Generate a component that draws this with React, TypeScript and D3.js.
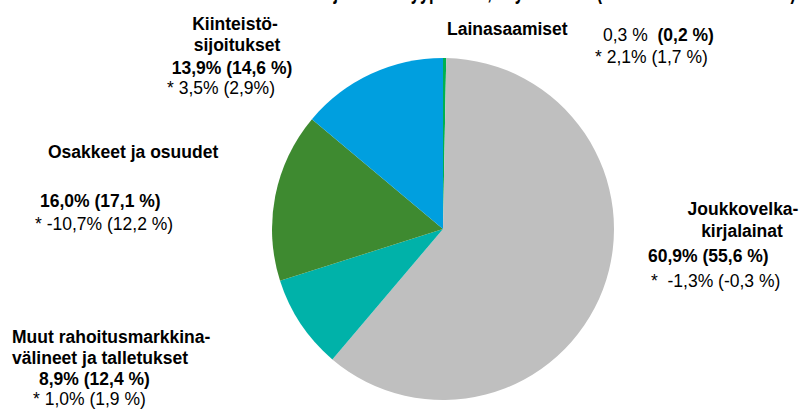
import React, { useEffect, useRef } from 'react';
import * as d3 from 'd3';

const categories: string[] = [
  'Lainasaamiset',
  'Joukkovelkakirjalainat',
  'Muut rahoitusmarkkinavälineet ja talletukset',
  'Osakkeet ja osuudet',
  'Kiinteistösijoitukset',
];
const shares: number[] = [0.3, 60.9, 8.9, 16.0, 13.9];
const prevShares: string[] = ['0,2 %', '55,6 %', '12,4 %', '17,1 %', '14,6 %'];
const shareLabels: string[] = ['0,3 %', '60,9%', '8,9%', '16,0%', '13,9%'];
const returnLabels: string[] = [
  '* 2,1%  (1,7 %)',
  '*  -1,3% (-0,3 %)',
  '* 1,0% (1,9 %)',
  '* -10,7% (12,2 %)',
  '* 3,5% (2,9%)',
];
const colors: string[] = ['#00b050', '#bfbfbf', '#00b2a9', '#3e8a30', '#009fdf'];

interface Slice {
  name: string;
  value: number;
}

const App: React.FC = () => {
  const chartRef = useRef<SVGSVGElement | null>(null);

  useEffect(() => {
    if (!chartRef.current) return;
    const width = 801;
    const height = 412;
    const cx = 443;
    const cy = 229;
    const radius = 171;
    const font = 'Liberation Sans, Arial, sans-serif';

    const svg = d3.select(chartRef.current);
    svg.selectAll('*').remove();
    svg.attr('width', width).attr('height', height);

    // title, cut off by the top edge (only descenders show)
    svg
      .append('text')
      .attr('x', 318)
      .attr('y', -1)
      .attr('textLength', 478)
      .attr('lengthAdjust', 'spacingAndGlyphs')
      .style('font-family', font)
      .style('font-size', '24px')
      .style('font-weight', 'bold')
      .text('Sijoitukset tyypeittäin, käyvät arvot (suluissa edellinen vuosi)');

    const data: Slice[] = categories.map((c, i) => ({ name: c, value: shares[i] }));
    const pie = d3.pie<Slice>().sort(null).value((d) => d.value);
    const arc = d3.arc<d3.PieArcDatum<Slice>>().innerRadius(0).outerRadius(radius);
    const color = d3.scaleOrdinal<string>().domain(categories).range(colors);

    svg
      .append('g')
      .attr('transform', `translate(${cx}, ${cy})`)
      .selectAll('path')
      .data(pie(data))
      .enter()
      .append('path')
      .attr('d', arc)
      .attr('fill', (d) => color(d.data.name));

    const txt = (x: number, y: number, s: string, bold: boolean, anchor = 'start') =>
      svg
        .append('text')
        .attr('x', x)
        .attr('y', y)
        .attr('text-anchor', anchor)
        .style('font-family', font)
        .style('font-size', '17.5px')
        .style('font-weight', bold ? 'bold' : 'normal')
        .style('fill', '#000')
        .text(s);

    // Lainasaamiset
    txt(447, 35, 'Lainasaamiset', true);
    const t0 = svg
      .append('text')
      .attr('x', 603)
      .attr('y', 41)
      .style('font-family', font)
      .style('font-size', '17.5px')
      .attr('xml:space', 'preserve');
    t0.append('tspan').text(shareLabels[0] + '  ');
    t0.append('tspan').style('font-weight', 'bold').text(`(${prevShares[0]})`);
    txt(595, 63, returnLabels[0], false);

    // Joukkovelkakirjalainat
    txt(743, 215, 'Joukkovelka-', true, 'middle');
    txt(742, 237, 'kirjalainat', true, 'middle');
    txt(648, 262, `${shareLabels[1]} (${prevShares[1]})`, true);
    txt(651, 287, returnLabels[1], false).attr('xml:space', 'preserve');

    // Muut rahoitusmarkkinavälineet
    txt(12, 343, 'Muut rahoitusmarkkina-', true);
    txt(12, 364, 'välineet ja talletukset', true);
    txt(39, 385, `${shareLabels[2]} (${prevShares[2]})`, true);
    txt(33, 405, returnLabels[2], false);

    // Osakkeet ja osuudet
    txt(48, 158, 'Osakkeet ja osuudet', true);
    txt(40, 207, `${shareLabels[3]} (${prevShares[3]})`, true);
    txt(35, 230, returnLabels[3], false);

    // Kiinteistösijoitukset
    txt(235, 30, 'Kiinteistö-', true, 'middle');
    txt(237, 51, 'sijoitukset', true, 'middle');
    txt(232, 74, `${shareLabels[4]} (${prevShares[4]})`, true, 'middle');
    txt(167, 94, returnLabels[4], false);
  }, []);

  return (
    <svg
      ref={chartRef}
      style={{ position: 'absolute', left: 0, top: 0, background: '#fff' }}
    ></svg>
  );
};

export default App;
